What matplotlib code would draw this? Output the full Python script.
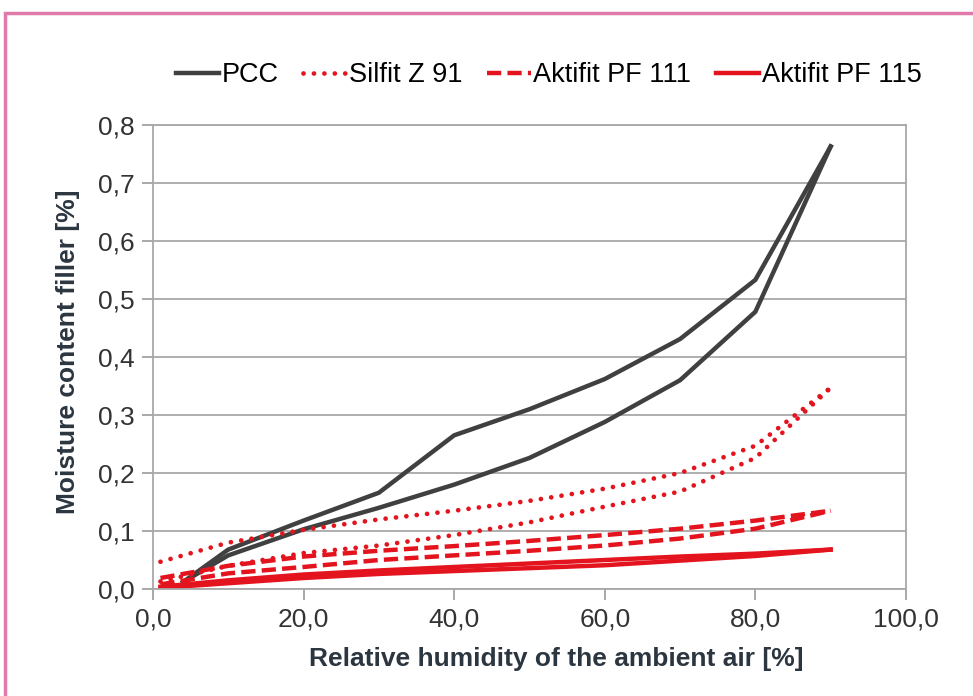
import numpy as np
import matplotlib
matplotlib.use('Agg')
import matplotlib.pyplot as plt
from matplotlib.patches import Rectangle

plt.rcParams['font.family'] = ['Liberation Sans', 'DejaVu Sans']

# data: each material has an upper and a lower branch
rh = [4, 10, 20, 30, 40, 50, 60, 70, 80, 90]
pcc_up = [0.012, 0.068, 0.118, 0.166, 0.265, 0.31, 0.362, 0.431, 0.533, 0.763]
pcc_lo = [0.012, 0.058, 0.103, 0.140, 0.180, 0.226, 0.288, 0.360, 0.478, 0.763]

rh2 = [1, 10, 20, 30, 40, 50, 60, 70, 80, 90]
silfit_up = [0.047, 0.08, 0.102, 0.12, 0.135, 0.152, 0.173, 0.2, 0.247, 0.347]
silfit_lo = [0.013, 0.04, 0.062, 0.075, 0.093, 0.115, 0.142, 0.168, 0.226, 0.347]
pf111_up = [0.019, 0.04, 0.056, 0.066, 0.074, 0.083, 0.093, 0.104, 0.118, 0.135]
pf111_lo = [0.008, 0.027, 0.038, 0.05, 0.058, 0.066, 0.075, 0.087, 0.104, 0.135]
pf115_up = [0.004, 0.015, 0.025, 0.032, 0.038, 0.044, 0.05, 0.056, 0.061, 0.068]
pf115_lo = [0.002, 0.01, 0.019, 0.026, 0.031, 0.036, 0.041, 0.049, 0.057, 0.068]

DARK = '#404040'
RED = '#e3141e'
TXT = '#2b3640'
DOT = (0, (0.01, 2.2))
DASH = (0, (3.2, 1.4))

fig = plt.figure(figsize=(9.73, 6.96), dpi=100)
ax = fig.add_axes([0.1572, 0.1537, 0.7739, 0.6667])

# pink frame (cropped on the right and bottom)
fig.patches.append(Rectangle((5 / 973, -0.1), 1.2, (696 - 13) / 696 + 0.1,
                             transform=fig.transFigure, fill=False,
                             edgecolor='#e07aa8', lw=2.5))

ax.plot(rh, pcc_up, color=DARK, lw=3.2, label='PCC')
ax.plot(rh, pcc_lo, color=DARK, lw=3.2)
ax.plot(rh2, silfit_up, color=RED, lw=3.4, ls=DOT, dash_capstyle='round', label='Silfit Z 91')
ax.plot(rh2, silfit_lo, color=RED, lw=3.4, ls=DOT, dash_capstyle='round')
ax.plot(rh2, pf111_up, color=RED, lw=3.2, ls=DASH, label='Aktifit PF 111')
ax.plot(rh2, pf111_lo, color=RED, lw=3.2, ls=DASH)
ax.plot(rh2, pf115_up, color=RED, lw=3.2, label='Aktifit PF 115')
ax.plot(rh2, pf115_lo, color=RED, lw=3.2)

ax.set_xlim(0, 100)
ax.set_ylim(0, 0.8)
ax.set_xticks(np.arange(0, 101, 20))
ax.set_yticks(np.arange(0, 0.81, 0.1))
ax.set_xticklabels([f'{v:.1f}'.replace('.', ',') for v in np.arange(0, 101, 20)])
ax.set_yticklabels([f'{v:.1f}'.replace('.', ',') for v in np.arange(0, 0.81, 0.1)])
ax.tick_params(colors='#999999', labelcolor='#333333', labelsize=19, length=8, width=1.2, pad=5)
ax.grid(axis='y', color='#a8a8a8', lw=1.3)
ax.set_axisbelow(True)
for s in ax.spines.values():
    s.set_color('#a8a8a8')
    s.set_linewidth(1.3)

ax.set_xlabel('Relative humidity of the ambient air [%]', fontsize=19, fontweight='bold', color=TXT, va='center')
ax.set_ylabel('Moisture content filler [%]', fontsize=19, fontweight='bold', color=TXT, va='center')
ax.xaxis.set_label_coords(0.535, -0.151)
ax.yaxis.set_label_coords(-0.113, 0.511)

fig.legend(loc='center', bbox_to_anchor=(0.564, 0.892), ncol=4, frameon=False,
           fontsize=19.5, handlelength=1.6, handletextpad=0.1, columnspacing=0.9)

fig.savefig('out.png', dpi=100)
